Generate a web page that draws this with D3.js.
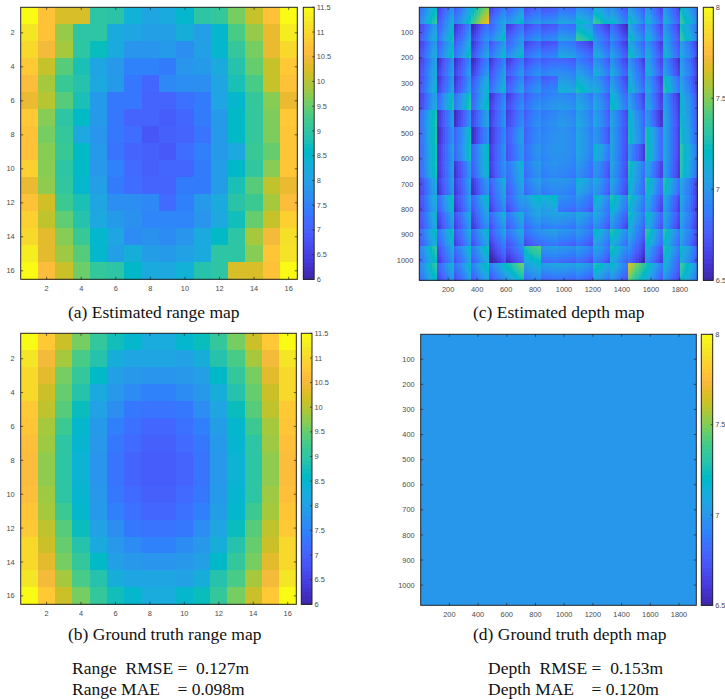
<!DOCTYPE html>
<html><head><meta charset="utf-8">
<script src="https://cdn.jsdelivr.net/npm/d3@7/dist/d3.min.js"></script>
<style>html,body{margin:0;background:#fff}svg{display:block}
.tick{font:7.4px "Liberation Sans",Arial,sans-serif;fill:#4a4a4a}
.cap{font:17.5px "Liberation Serif","Times New Roman",serif;fill:#111}
.soft{filter:blur(0.45px)}
</style></head><body><svg id="c" width="725" height="699"></svg>
<script>
// Estimated range per 16x16 tile (metres)
const rangeEstimated=[
[11.5,10.7,10.25,10.25,9.0,8.95,8.35,8.1,8.2,8.5,9.0,9.1,9.6,10.1,10.7,11.5],
[11.2,10.7,9.8,9.0,9.0,8.2,8.1,8.0,8.0,8.3,8.0,8.5,9.3,9.8,10.4,11.3],
[11.0,10.5,9.9,9.0,8.7,8.2,7.8,7.8,7.9,7.7,8.0,8.5,9.1,9.6,10.4,11.0],
[10.8,10.1,9.4,8.8,8.1,7.85,7.5,7.5,7.4,7.8,7.9,8.2,8.9,9.5,10.1,10.8],
[10.6,9.9,9.15,8.9,8.15,7.9,7.35,7.1,7.6,7.7,7.7,8.1,8.8,9.3,10.1,10.7],
[10.4,10.0,9.4,8.8,7.9,7.35,7.35,7.05,7.05,7.25,7.4,8.1,8.5,9.1,9.7,10.4],
[10.8,9.7,9.0,8.6,7.9,7.35,7.05,7.05,6.95,7.1,7.4,7.9,8.6,9.1,9.65,10.8],
[10.7,9.6,9.1,8.15,7.8,7.35,7.2,6.85,7.0,7.05,7.3,7.9,8.6,9.1,9.65,10.75],
[10.7,9.7,9.15,8.6,7.9,7.3,7.05,7.0,6.9,7.2,7.45,7.9,8.15,9.15,9.5,10.75],
[10.9,9.7,9.0,8.6,7.85,7.5,7.15,7.0,7.1,7.1,7.4,7.95,8.55,9.05,9.7,10.75],
[10.4,9.75,9.05,8.5,8.0,7.4,7.2,7.05,7.05,7.4,7.4,7.95,8.8,9.4,10.05,10.4],
[10.7,10.2,9.2,8.8,8.1,7.7,7.7,7.6,7.15,7.45,7.9,8.2,8.95,9.2,9.9,10.6],
[10.9,10.05,9.45,8.9,8.15,7.9,7.75,7.55,7.55,7.55,7.8,8.15,8.75,9.5,10.1,10.9],
[11.0,10.35,9.7,9.15,8.5,8.1,7.65,7.75,7.65,7.8,8.2,8.6,9.0,9.9,10.5,11.1],
[11.3,10.35,9.85,9.4,8.5,8.0,8.3,7.95,7.9,8.05,8.2,9.0,9.0,9.7,10.75,11.15],
[11.5,10.6,10.15,9.55,9.1,9.0,8.55,8.2,8.15,8.35,8.9,9.0,10.25,10.25,10.7,11.5]];
const rangeTruth=[
[11.5,10.8,10.15,9.6,9.1,8.75,8.5,8.25,8.25,8.5,8.7,9.1,9.6,10.15,10.8,11.5],
[11.2,10.5,9.9,9.3,8.9,8.3,8.1,8.1,8.1,8.05,8.3,8.9,9.3,9.9,10.5,11.2],
[11.0,10.35,9.6,9.1,8.6,8.0,7.85,7.8,7.8,7.85,8.0,8.55,9.1,9.6,10.35,11.0],
[11.0,10.15,9.5,8.9,8.2,7.85,7.65,7.5,7.5,7.65,7.85,8.3,8.9,9.5,10.15,11.0],
[10.8,10.05,9.4,8.7,8.05,7.7,7.35,7.3,7.3,7.35,7.7,8.1,8.7,9.4,10.05,10.8],
[10.75,9.9,9.2,8.5,7.9,7.45,7.25,7.1,7.1,7.25,7.45,7.95,8.5,9.2,9.9,10.75],
[10.65,9.85,9.0,8.45,7.85,7.35,7.15,7.0,7.0,7.15,7.35,7.9,8.45,9.0,9.85,10.65],
[10.6,9.75,9.0,8.4,7.8,7.3,7.05,6.95,6.95,7.05,7.3,7.85,8.4,9.0,9.75,10.6],
[10.6,9.75,9.0,8.4,7.8,7.3,7.05,6.95,6.95,7.05,7.3,7.85,8.4,9.0,9.75,10.6],
[10.65,9.85,9.0,8.45,7.85,7.35,7.15,7.0,7.0,7.15,7.35,7.9,8.45,9.0,9.85,10.65],
[10.75,9.9,9.2,8.5,7.9,7.45,7.25,7.1,7.1,7.25,7.45,7.95,8.5,9.2,9.9,10.75],
[10.8,10.05,9.4,8.7,8.05,7.7,7.35,7.3,7.3,7.35,7.7,8.1,8.7,9.4,10.05,10.8],
[11.0,10.15,9.5,8.9,8.2,7.85,7.65,7.5,7.5,7.65,7.85,8.3,8.9,9.5,10.15,11.0],
[11.0,10.35,9.6,9.1,8.6,8.0,7.85,7.8,7.8,7.85,8.0,8.55,9.1,9.6,10.35,11.0],
[11.2,10.5,9.9,9.3,8.9,8.3,8.1,8.1,8.1,8.05,8.3,8.9,9.3,9.9,10.5,11.2],
[11.5,10.8,10.15,9.6,9.1,8.75,8.5,8.25,8.25,8.5,8.7,9.1,9.6,10.15,10.8,11.5]];
// Depth at the centre of each tile (metres)
const depthTileCentres=[
[7.08,6.87,7.0,7.45,6.87,7.0,6.87,6.87,6.95,7.05,7.15,6.95,7.0,6.92,6.9,7.1],
[6.9,7.0,6.82,6.76,7.0,6.82,6.84,6.84,6.95,7.2,6.82,6.76,7.0,6.92,6.88,7.1],
[6.88,7.0,7.0,6.84,6.95,7.0,6.82,6.82,6.98,6.8,6.95,6.84,7.02,6.88,6.95,6.9],
[6.88,6.8,6.8,6.78,6.82,6.82,6.84,6.87,6.87,6.92,6.95,6.87,6.87,6.92,6.82,6.87],
[6.92,6.82,6.82,6.95,6.95,6.87,6.87,6.85,7.05,7.12,6.95,6.87,6.98,6.87,7.05,6.87],
[6.87,7.02,7.07,7.0,6.78,6.8,6.88,6.95,6.97,7.0,6.93,7.02,6.87,6.87,6.82,6.97],
[7.05,6.8,6.76,6.87,6.8,6.8,6.88,6.93,6.97,7.0,6.93,6.87,7.0,6.8,6.87,7.0],
[7.05,6.76,7.0,6.76,6.76,6.9,6.88,6.95,6.97,7.0,6.88,6.87,7.03,7.05,6.87,7.03],
[7.03,6.8,7.02,7.0,6.8,6.87,6.92,6.97,6.97,7.0,7.03,6.87,6.82,7.05,6.87,7.1],
[7.03,6.8,6.8,6.98,6.8,7.0,6.93,6.95,6.93,6.93,6.88,6.87,7.05,6.87,6.84,7.08],
[6.88,6.8,6.82,6.8,6.93,6.93,6.93,6.95,6.95,7.05,6.93,6.87,7.0,7.05,7.05,6.88],
[6.9,7.0,6.82,6.97,6.84,6.88,7.08,7.12,6.9,6.88,7.03,7.05,7.05,6.9,6.87,6.87],
[6.92,6.84,6.87,6.84,6.92,6.95,6.95,6.98,6.97,6.97,6.93,6.88,7.02,6.98,6.87,6.87],
[6.98,7.0,6.87,6.95,6.84,6.92,6.84,6.95,6.9,6.88,7.03,7.05,6.9,7.08,7.05,6.88],
[7.08,6.84,6.95,7.0,6.66,6.76,7.25,6.93,6.9,6.88,6.9,7.03,6.74,6.87,7.03,6.98],
[7.08,6.9,6.95,7.0,6.95,7.25,7.0,6.95,6.95,6.93,7.08,6.95,7.4,7.02,6.9,7.12]];
const depthTruth=7.0;
const focalPx=790; // estimated: shapes the gradient visible inside each tile of panel (c)
const rangeTicks=[6,6.5,7,7.5,8,8.5,9,9.5,10,10.5,11,11.5];
const depthTicks=[6.5,7,7.5,8];
const cellTicks=[2,4,6,8,10,12,14,16];
const pxXTicks=[200,400,600,800,1000,1200,1400,1600,1800];
const pxYTicks=[100,200,300,400,500,600,700,800,900,1000];
const captions=["(a) Estimated range map","(c) Estimated depth map","(b) Ground truth range map","(d) Ground truth depth map"];
const parula=[[.2422,.1504,.6603],[.2504,.1650,.7076],[.2578,.1818,.7511],[.2647,.1978,.7952],[.2706,.2147,.8364],[.2751,.2342,.8710],[.2783,.2559,.8991],[.2803,.2782,.9221],[.2813,.3006,.9414],[.2810,.3228,.9579],[.2795,.3447,.9717],[.2760,.3667,.9829],[.2699,.3892,.9906],[.2602,.4123,.9952],[.2440,.4358,.9988],[.2206,.4603,.9973],[.1963,.4847,.9892],[.1834,.5074,.9798],[.1786,.5289,.9682],[.1764,.5499,.9520],[.1687,.5703,.9359],[.1540,.5902,.9218],[.1460,.6091,.9079],[.1380,.6276,.8973],[.1248,.6459,.8883],[.1113,.6635,.8763],[.0952,.6798,.8598],[.0689,.6948,.8394],[.0297,.7082,.8163],[.0036,.7203,.7917],[.0067,.7312,.7660],[.0433,.7411,.7394],[.0964,.7500,.7120],[.1408,.7584,.6842],[.1717,.7670,.6554],[.1938,.7758,.6251],[.2161,.7843,.5923],[.2470,.7918,.5567],[.2906,.7973,.5188],[.3406,.8008,.4789],[.3909,.8029,.4354],[.4456,.8024,.3909],[.5044,.7993,.3480],[.5616,.7942,.3045],[.6174,.7876,.2612],[.6720,.7793,.2227],[.7242,.7698,.1910],[.7738,.7598,.1646],[.8203,.7498,.1535],[.8634,.7406,.1596],[.9035,.7330,.1774],[.9393,.7288,.2100],[.9728,.7298,.2394],[.9956,.7434,.2371],[.9970,.7659,.2199],[.9952,.7893,.2028],[.9892,.8136,.1885],[.9786,.8386,.1766],[.9676,.8639,.1643],[.9610,.8890,.1537],[.9597,.9135,.1423],[.9628,.9373,.1265],[.9691,.9606,.1064],[.9769,.9839,.0805]]
 .map(c=>d3.rgb(c[0]*255,c[1]*255,c[2]*255).formatHex());
const colorFor=dom=>d3.scaleLinear().domain(parula.map((_,i)=>dom[0]+(dom[1]-dom[0])*i/(parula.length-1))).range(parula).interpolate(d3.interpolateRgb).clamp(true);
const svg=d3.select("#c");
const ink="#262626";

function frame(g,p,xS,yS,xT,yT){
  g.append("rect").attr("x",p.x0).attr("y",p.y0).attr("width",p.x1-p.x0).attr("height",p.y1-p.y0).attr("fill","none").attr("stroke",ink).attr("stroke-width",1);
  xT.forEach(t=>{const x=xS(t);
    g.append("line").attr("x1",x).attr("x2",x).attr("y1",p.y1).attr("y2",p.y1-2.5).attr("stroke",ink).attr("stroke-width",.7);
    g.append("line").attr("x1",x).attr("x2",x).attr("y1",p.y0).attr("y2",p.y0+2.5).attr("stroke",ink).attr("stroke-width",.7);
    g.append("text").attr("class","tick").attr("x",x).attr("y",p.y1+11.5).attr("text-anchor","middle").text(t);});
  yT.forEach(t=>{const y=yS(t);
    g.append("line").attr("x1",p.x0).attr("x2",p.x0+2.5).attr("y1",y).attr("y2",y).attr("stroke",ink).attr("stroke-width",.7);
    g.append("line").attr("x1",p.x1).attr("x2",p.x1-2.5).attr("y1",y).attr("y2",y).attr("stroke",ink).attr("stroke-width",.7);
    g.append("text").attr("class","tick").attr("x",p.x0-6).attr("y",y+2.6).attr("text-anchor","end").text(t);});
}
function colorbar(b,dom,ticks){
  const g=svg.append("g"),c=colorFor(dom);
  const yS=d3.scaleLinear().domain(dom).range([b.y1,b.y0]);
  const lv=d3.range(64).map(i=>dom[0]+(dom[1]-dom[0])*i/64);
  const step=(dom[1]-dom[0])/64;
  g.append("g").attr("shape-rendering","crispEdges").selectAll("rect").data(lv).join("rect").attr("x",b.x0).attr("width",b.x1-b.x0)
    .attr("y",d=>yS(d+step)).attr("height",d=>yS(d)-yS(d+step)+.5).attr("fill",d=>c(d+step/2));
  g.append("rect").attr("x",b.x0).attr("y",b.y0).attr("width",b.x1-b.x0).attr("height",b.y1-b.y0).attr("fill","none").attr("stroke",ink).attr("stroke-width",1);
  ticks.forEach(t=>{const y=yS(t);
    g.append("line").attr("x1",b.x1).attr("x2",b.x1-2).attr("y1",y).attr("y2",y).attr("stroke",ink).attr("stroke-width",.7);
    g.append("text").attr("class","tick").attr("x",b.x1+2.5).attr("y",Math.min(Math.max(y+2.6,b.y0+3),b.y1+3)).text(t);});
}
function rangePanel(p,b,data){
  const g=svg.append("g"),c=colorFor([6,11.5]);
  const xS=d3.scaleLinear().domain([.5,16.5]).range([p.x0,p.x1]);
  const yS=d3.scaleLinear().domain([.5,16.5]).range([p.y0,p.y1]);
  const cells=g.append("g").attr("class","soft");
  data.forEach((row,r)=>cells.append("g").attr("shape-rendering","crispEdges").selectAll("rect").data(row).join("rect")
    .attr("x",(d,i)=>xS(i+.5)).attr("y",yS(r+.5)).attr("width",xS(1.5)-xS(.5)+.3).attr("height",yS(1.5)-yS(.5)+.3).attr("fill",d=>c(d)));
  frame(g,p,xS,yS,cellTicks,cellTicks);
  colorbar(b,[6,11.5],rangeTicks);
}
const pxScales=p=>[d3.scaleLinear().domain([.5,1920.5]).range([p.x0,p.x1]),d3.scaleLinear().domain([.5,1080.5]).range([p.y0,p.y1])];
function depthEstPanel(p,b,data){
  const g=svg.append("g"),c=colorFor([6.5,8]);
  const [xS,yS]=pxScales(p);
  const n=8,cells=[];
  const cosAt=(x,y)=>focalPx/Math.hypot(focalPx,x-960,y-540);
  data.forEach((row,r)=>row.forEach((v,q)=>{
    const centre=cosAt(q*120+60,r*67.5+33.75);
    for(let i=0;i<n;i++)for(let j=0;j<n;j++){
      const x=q*120+i*120/n,y=r*67.5+j*67.5/n;
      cells.push({x,y,d:v*cosAt(x+60/n,y+33.75/n)/centre});
    }}));
  g.append("g").attr("class","soft").attr("shape-rendering","crispEdges").selectAll("rect").data(cells).join("rect")
    .attr("x",d=>xS(d.x+.5)).attr("y",d=>yS(d.y+.5))
    .attr("width",xS(120/n+.5)-xS(.5)+.4).attr("height",yS(67.5/n+.5)-yS(.5)+.4).attr("fill",d=>c(d.d));
  frame(g,p,xS,yS,pxXTicks,pxYTicks);
  colorbar(b,[6.5,8],depthTicks);
}
function depthTruthPanel(p,b,v){
  const g=svg.append("g"),c=colorFor([6.5,8]);
  const [xS,yS]=pxScales(p);
  g.append("rect").attr("x",xS(.5)).attr("y",yS(.5)).attr("width",xS(1920.5)-xS(.5)).attr("height",yS(1080.5)-yS(.5)).attr("fill",c(v));
  frame(g,p,xS,yS,pxXTicks,pxYTicks);
  colorbar(b,[6.5,8],depthTicks);
}
rangePanel({x0:20.7,x1:297.3,y0:7.3,y1:279.3},{x0:303.3,x1:314.2,y0:7.3,y1:279.3},rangeEstimated);
depthEstPanel({x0:419.3,x1:697.3,y0:7.3,y1:280.3},{x0:703.3,x1:713.3,y0:7.3,y1:280.3},depthTileCentres);
rangePanel({x0:20.7,x1:296.3,y0:333.3,y1:604.3},{x0:301.3,x1:312,y0:333.3,y1:604.3},rangeTruth);
depthTruthPanel({x0:420.7,x1:696.3,y0:334.3,y1:605.3},{x0:701.3,x1:712.7,y0:334.3,y1:605.3},depthTruth);
[[68,318],[473,318],[68,640],[473,640]].forEach((q,i)=>svg.append("text").attr("class","cap").attr("x",q[0]).attr("y",q[1]).text(captions[i]));
[["Range  RMSE =  0.127m",72,674],["Range MAE    = 0.098m",72,695],["Depth  RMSE =  0.153m",488,674],["Depth MAE    = 0.120m",488,695]]
 .forEach(t=>svg.append("text").attr("class","cap").attr("x",t[1]).attr("y",t[2]).style("white-space","pre").text(t[0]));
</script></body></html>
